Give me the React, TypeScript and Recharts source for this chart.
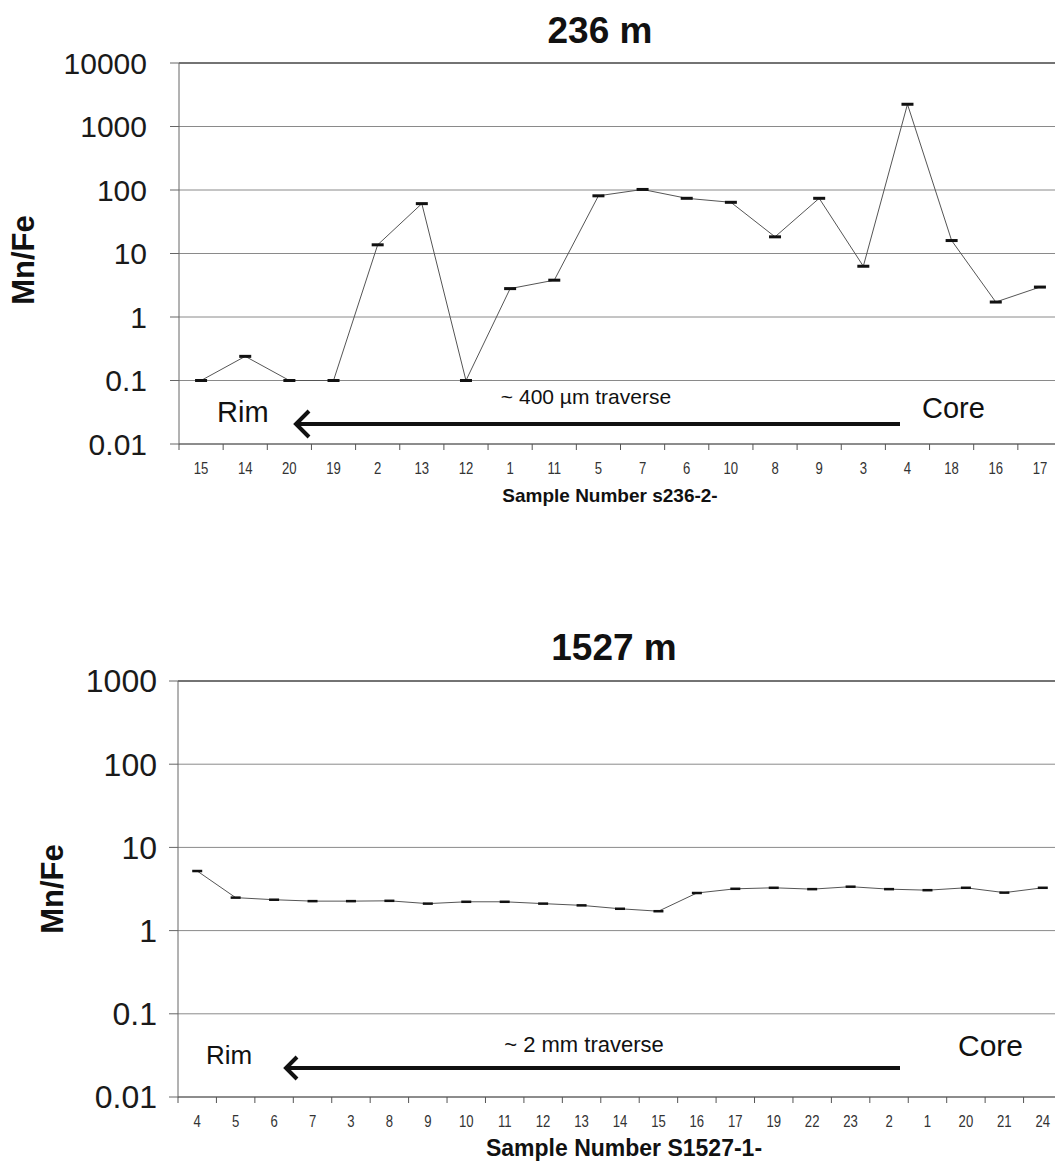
import React from "react";
import {
  LineChart,
  Line,
  XAxis,
  YAxis,
  CartesianGrid,
  ReferenceLine,
} from "recharts";

// 236 m traverse (rim -> core)
const samples236 = ["15", "14", "20", "19", "2", "13", "12", "1", "11", "5", "7", "6", "10", "8", "9", "3", "4", "18", "16", "17"];
const mnFe236 = [0.1, 0.24, 0.1, 0.1, 13.7, 61, 0.1, 2.8, 3.8, 81, 102, 74, 64, 18.3, 74, 6.3, 2240, 16, 1.72, 2.96];
const ticks236 = [0.01, 0.1, 1, 10, 100, 1000, 10000];

// 1527 m traverse (rim -> core)
const samples1527 = ["4", "5", "6", "7", "3", "8", "9", "10", "11", "12", "13", "14", "15", "16", "17", "19", "22", "23", "2", "1", "20", "21", "24"];
const mnFe1527 = [5.2, 2.49, 2.35, 2.26, 2.26, 2.28, 2.11, 2.22, 2.22, 2.11, 2.01, 1.83, 1.71, 2.83, 3.18, 3.27, 3.15, 3.37, 3.15, 3.06, 3.27, 2.86, 3.27];
const ticks1527 = [0.01, 0.1, 1, 10, 100, 1000];

const FONT = "'Liberation Sans', Arial, sans-serif";

const CHART_W = 1072;
const PLOT_RIGHT = 1062;

// category tick: label in the middle, tick marks on the band edges (excel style)
const makeTick = (band: number, count: number, labelDy: number) => (props: any) => {
  const { x, y, payload, index } = props;
  return (
    <g>
      <line x1={x - band / 2} x2={x - band / 2} y1={y} y2={y + 6} stroke="#555" strokeWidth={1} />
      {index === count - 1 && (
        <line x1={x + band / 2} x2={x + band / 2} y1={y} y2={y + 6} stroke="#555" strokeWidth={1} />
      )}
      <text
        transform={`translate(${x},${y + labelDy}) scale(0.82,1)`}
        textAnchor="middle"
        fontSize={16}
        fontFamily={FONT}
        fill="#333"
      >
        {payload.value}
      </text>
    </g>
  );
};

const DashDot = (w: number, h: number, color: string) => (props: any) => {
  const { cx, cy, index } = props;
  if (cx == null || cy == null) return <g key={index} />;
  return <rect key={index} x={cx - w / 2} y={cy - h / 2} width={w} height={h} fill={color} />;
};

interface PanelProps {
  title: string;
  xTitle: string;
  categories: string[];
  values: number[];
  yTicks: number[];
  height: number;
  plotTop: number;
  plotBottom: number;
  plotLeft: number;
  tickMargin: number;
  yFont: number;
  dotW: number;
  dotH: number;
  anno: {
    titleY: number;
    titleX: number;
    mnX: number;
    mnY: number;
    mnFont: number;
    xTitleY: number;
    xTitleFont: number;
    rimX: number;
    rimY: number;
    rimFont: number;
    travText: string;
    travX: number;
    travY: number;
    travFont: number;
    coreX: number;
    coreY: number;
    coreFont: number;
    arrowX1: number;
    arrowX2: number;
    arrowY: number;
    headH: number;
  };
}

const Panel: React.FC<PanelProps> = ({
  title,
  xTitle,
  categories,
  values,
  yTicks,
  height,
  plotTop,
  plotBottom,
  plotLeft,
  tickMargin,
  yFont,
  dotW,
  dotH,
  anno,
}) => {
  const data = categories.map((c, i) => ({ sample: c, ratio: values[i] }));
  const band = (PLOT_RIGHT - plotLeft) / categories.length;
  const a = anno;
  return (
    <div style={{ position: "relative", width: 1055, height, overflow: "hidden" }}>
      <LineChart
        width={CHART_W}
        height={height}
        data={data}
        margin={{ top: plotTop, right: CHART_W - PLOT_RIGHT, bottom: 0, left: 0 }}
      >
        <CartesianGrid vertical={false} stroke="#8a8a8a" strokeWidth={1} />
        <XAxis
          dataKey="sample"
          height={height - plotBottom}
          padding={{ left: band / 2, right: band / 2 }}
          interval={0}
          tickLine={false}
          tickSize={0}
          tickMargin={0}
          axisLine={{ stroke: "#555" }}
          tick={makeTick(band, categories.length, 30)}
        />
        <YAxis
          scale="log"
          domain={[yTicks[0], yTicks[yTicks.length - 1]]}
          ticks={yTicks}
          allowDataOverflow
          width={plotLeft}
          tickSize={9}
          tickMargin={tickMargin}
          interval={0}
          tickFormatter={(v: number) => String(v)}
          axisLine={{ stroke: "#666" }}
          tickLine={{ stroke: "#666" }}
          tick={{ fontSize: yFont, fontFamily: FONT, fill: "#1a1a1a" }}
        />
        <ReferenceLine y={yTicks[yTicks.length - 1]} stroke="#222" strokeWidth={1} />
        <Line
          type="linear"
          dataKey="ratio"
          stroke="#555"
          strokeWidth={1}
          dot={DashDot(dotW, dotH, "#111")}
          activeDot={false}
          isAnimationActive={false}
        />
      </LineChart>
      <svg
        width={1055}
        height={height}
        style={{ position: "absolute", left: 0, top: 0, pointerEvents: "none" }}
        fontFamily={FONT}
      >
        <text x={a.titleX} y={a.titleY} textAnchor="middle" fontSize={37} fontWeight="bold" fill="#111">
          {title}
        </text>
        <text
          transform={`translate(${a.mnX},${a.mnY}) rotate(-90)`}
          textAnchor="middle"
          fontSize={a.mnFont}
          fontWeight="bold"
          fill="#111"
        >
          Mn/Fe
        </text>
        <text x={a.titleX + 10} y={a.xTitleY} textAnchor="middle" fontSize={a.xTitleFont} fontWeight="bold" fill="#111">
          {xTitle}
        </text>
        <text x={a.rimX} y={a.rimY} fontSize={a.rimFont} fill="#111">
          Rim
        </text>
        <text x={a.travX} y={a.travY} textAnchor="middle" fontSize={a.travFont} fill="#111">
          {a.travText}
        </text>
        <text x={a.coreX} y={a.coreY} fontSize={a.coreFont} fill="#111">
          Core
        </text>
        <line x1={a.arrowX1 + 2} x2={a.arrowX2} y1={a.arrowY} y2={a.arrowY} stroke="#111" strokeWidth={4} />
        <polyline
          points={`${a.arrowX1 + a.headH},${a.arrowY - a.headH} ${a.arrowX1},${a.arrowY} ${a.arrowX1 + a.headH},${a.arrowY + a.headH}`}
          fill="none"
          stroke="#111"
          strokeWidth={4}
        />
      </svg>
    </div>
  );
};

export default function App() {
  return (
    <div
      style={{
        position: "absolute",
        left: 0,
        top: 0,
        width: 1055,
        height: 1167,
        background: "#fff",
        overflow: "hidden",
      }}
    >
      <Panel
        title="236 m"
        xTitle="Sample Number s236-2-"
        categories={samples236}
        values={mnFe236}
        yTicks={ticks236}
        height={600}
        plotTop={63}
        plotBottom={444}
        plotLeft={179}
        tickMargin={23}
        yFont={30}
        dotW={12}
        dotH={3}
        anno={{
          titleX: 600,
          titleY: 43,
          mnX: 34,
          mnY: 260,
          mnFont: 31,
          xTitleY: 502,
          xTitleFont: 19,
          rimX: 217,
          rimY: 422,
          rimFont: 29,
          travText: "~ 400 \u00b5m traverse",
          travX: 586,
          travY: 404,
          travFont: 21,
          coreX: 922,
          coreY: 418,
          coreFont: 29,
          arrowX1: 296,
          arrowX2: 900,
          arrowY: 424,
          headH: 13,
        }}
      />
      <Panel
        title="1527 m"
        xTitle="Sample Number S1527-1-"
        categories={samples1527}
        values={mnFe1527}
        yTicks={ticks1527}
        height={567}
        plotTop={81}
        plotBottom={497}
        plotLeft={178}
        tickMargin={12}
        yFont={32}
        dotW={10}
        dotH={2.5}
        anno={{
          titleX: 614,
          titleY: 60,
          mnX: 63,
          mnY: 289,
          mnFont: 31,
          xTitleY: 556,
          xTitleFont: 23,
          rimX: 206,
          rimY: 464,
          rimFont: 26,
          travText: "~ 2 mm traverse",
          travX: 584,
          travY: 452,
          travFont: 22,
          coreX: 958,
          coreY: 456,
          coreFont: 30,
          arrowX1: 286,
          arrowX2: 900,
          arrowY: 468,
          headH: 11,
        }}
      />
    </div>
  );
}
